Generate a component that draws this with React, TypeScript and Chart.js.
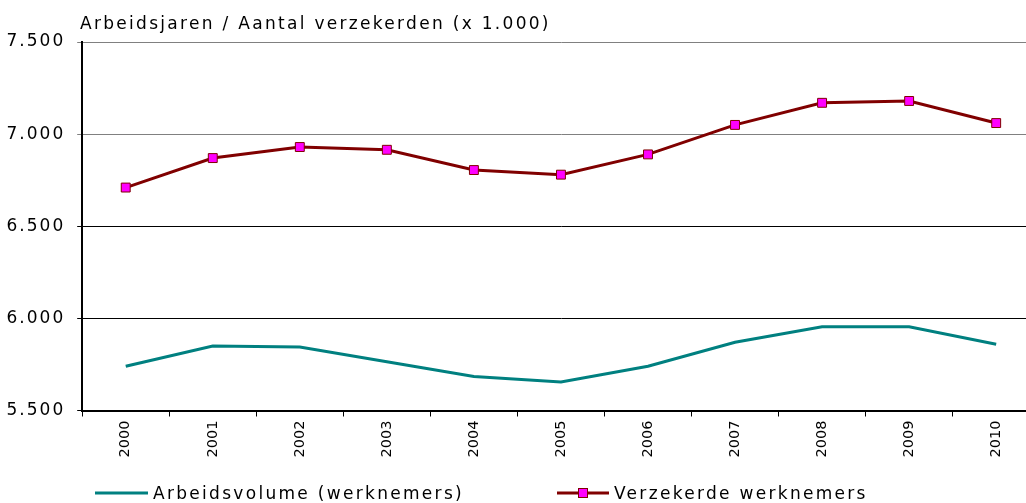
import React, { useEffect, useRef } from "react";
import { Chart, registerables } from "chart.js";

Chart.register(...registerables);

const years = ["2000", "2001", "2002", "2003", "2004", "2005", "2006", "2007", "2008", "2009", "2010"];
const arbeidsvolume = [5740, 5850, 5845, 5765, 5685, 5655, 5740, 5870, 5955, 5955, 5860];
const verzekerde = [6710, 6870, 6930, 6915, 6805, 6780, 6890, 7050, 7170, 7180, 7060];
const seriesNames = ["Arbeidsvolume (werknemers)", "Verzekerde werknemers"];
const axisTitle = "Arbeidsjaren / Aantal verzekerden (x 1.000)";
const yMin = 5500;
const yMax = 7500;
const yStep = 500;

const TEAL = "#008080";
const MAROON = "#800000";
const MAGENTA = "#FF00FF";
const FONT = '"DejaVu Sans", Verdana, sans-serif';

const fmt = (v: number) => String(v).replace(/\B(?=(\d{3})+(?!\d))/g, ".");

const textPlugin = {
  id: "textPlugin",
  beforeDraw(chart: any) {
    chart.ctx.letterSpacing = "2px";
  },
  afterDatasetsDraw(chart: any) {
    chart.ctx.letterSpacing = "0px";
  },
  afterDraw(chart: any) {
    const ctx = chart.ctx;
    ctx.save();
    ctx.letterSpacing = "2.3px";
    ctx.font = `17px ${FONT}`;
    ctx.fillStyle = "#000";
    ctx.textBaseline = "alphabetic";
    ctx.textAlign = "left";
    ctx.fillText(axisTitle, 80, 29);

    const ds = chart.data.datasets;
    const ly = 493;
    ctx.strokeStyle = ds[0].borderColor;
    ctx.lineWidth = 3;
    ctx.beginPath();
    ctx.moveTo(95, ly);
    ctx.lineTo(148, ly);
    ctx.stroke();
    ctx.fillText(ds[0].label, 153, 499);

    ctx.strokeStyle = ds[1].borderColor;
    ctx.beginPath();
    ctx.moveTo(557, ly);
    ctx.lineTo(609, ly);
    ctx.stroke();
    ctx.fillStyle = ds[1].pointBackgroundColor;
    ctx.strokeStyle = ds[1].pointBorderColor;
    ctx.lineWidth = 1;
    ctx.fillRect(578.5, ly - 4.5, 9, 9);
    ctx.strokeRect(578.5, ly - 4.5, 9, 9);
    ctx.fillStyle = "#000";
    ctx.fillText(ds[1].label, 614, 499);
    ctx.restore();
  },
};

export default function App() {
  const ref = useRef<HTMLCanvasElement | null>(null);

  useEffect(() => {
    if (!ref.current) return;
    const chart = new Chart(ref.current, {
      type: "line",
      data: {
        labels: years,
        datasets: [
          {
            label: seriesNames[0],
            data: arbeidsvolume,
            borderColor: TEAL,
            backgroundColor: TEAL,
            borderWidth: 3,
            pointRadius: 0,
            pointHoverRadius: 0,
            tension: 0,
          },
          {
            label: seriesNames[1],
            data: verzekerde,
            borderColor: MAROON,
            backgroundColor: MAGENTA,
            borderWidth: 3,
            pointStyle: "rect",
            pointRadius: 6.3,
            pointBackgroundColor: MAGENTA,
            pointBorderColor: MAROON,
            pointBorderWidth: 1,
            tension: 0,
          },
        ],
      },
      options: {
        responsive: false,
        animation: false,
        devicePixelRatio: 1,
        layout: { padding: { top: 42, left: 0, right: 0, bottom: 0 } },
        plugins: {
          legend: { display: false },
          title: { display: false },
          tooltip: { enabled: false },
        },
        scales: {
          x: {
            type: "category",
            offset: true,
            grid: {
              offset: true,
              drawOnChartArea: false,
              drawTicks: true,
              tickLength: 6,
              color: "#000",
              lineWidth: 1,
            },
            border: { color: "#000", width: 2 },
            ticks: {
              z: 1,
              autoSkip: false,
              minRotation: 90,
              maxRotation: 90,
              padding: 4,
              color: "#000",
              font: { family: FONT, size: 14.5 },
            },
            afterFit(scale: any) {
              scale.height = 92.5;
            },
          },
          y: {
            min: yMin,
            max: yMax,
            grid: {
              color: (c: any) => (c.tick && c.tick.value >= 7000 ? "#808080" : "#000000"),
              lineWidth: 1,
              drawTicks: true,
              tickLength: 5,
            },
            border: { color: "#000", width: 2 },
            ticks: {
              stepSize: yStep,
              padding: 12,
              color: "#000",
              font: { family: FONT, size: 17 },
              callback: (v: any) => fmt(Number(v)),
            },
            afterFit(scale: any) {
              scale.width = 82.2;
            },
          },
        },
      },
      plugins: [textPlugin],
    });
    return () => chart.destroy();
  }, []);

  return (
    <div
      style={{
        position: "absolute",
        left: 0,
        top: 0,
        width: 1026,
        height: 503,
        overflow: "hidden",
        background: "#fff",
      }}
    >
      <canvas ref={ref} width={1047} height={503} style={{ width: 1047, height: 503, display: "block" }} />
    </div>
  );
}
